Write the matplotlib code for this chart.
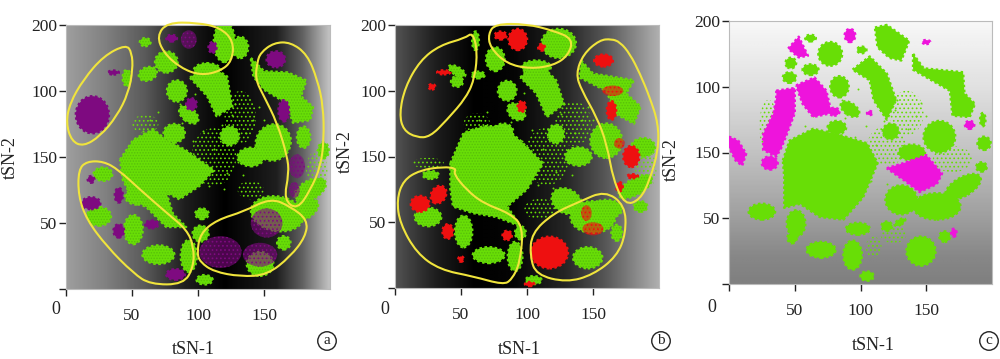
import numpy as np
import matplotlib
matplotlib.use("Agg")
import matplotlib.pyplot as plt
from matplotlib.patches import Ellipse, PathPatch, Polygon
from matplotlib.path import Path

plt.rcParams["font.family"] = ["Liberation Serif", "DejaVu Serif"]
plt.rcParams["hatch.linewidth"] = 0.7

W, H = 1000, 359

x_ticks = [0, 50, 100, 150]
x_tick_labels = ["", "50", "100", "150"]
y_ticks = [0, 50, 100, 150, 200]
y_tick_labels = ["", "50", "150", "100", "200"]  # the source really has 150 below 100

# small clusters as (x, y, width, height, angle)
a_green = [(82,118,16,14,0),(84,150,15,16,0),(93,132,17,10,-40),
           (107,166,20,10,0),(76,172,17,16,0),(120,187,16,30,0),(132,183,12,16,0),
           (62,163,14,10,20),(46,160,6,12,0),(60,187,8,6,0),
           (157,111,26,28,-30),(140,100,20,14,0),(124,116,14,14,0),(180,115,10,16,0),
           (195,105,8,12,0),(185,75,26,14,30),(180,60,24,14,30),(160,57,40,26,-10),(147,19,20,18,0),
           (165,35,10,10,0),(28,87,14,10,0),(25,55,18,14,0),(51,45,14,22,0),(70,26,24,14,0),(93,25,12,24,0),
           (105,7,12,7,0),(102,42,12,12,0),(54,70,18,12,0),(103,57,10,8,0)]
a_purple = [(20,132,25,28,0),(159,174,14,12,0),(165,135,8,16,0),(80,190,8,5,0),
            (111,183,6,8,0),(95,140,8,9,0),(40,71,6,11,0),(19,65,14,9,0),(19,83,5,5,0),(40,44,8,10,0),
            (65,49,10,6,0),(83,11,14,8,0),(36,164,8,3,0)]
a_purple_sparse = [(93,189,12,14,0),(117,28,32,24,0),(147,26,26,18,0),(152,50,24,22,0),(175,93,12,18,0),(173,75,8,12,0)]

b_green = [(82,119,15,12,0),(85,150,14,15,0),(92,134,15,11,-40),
           (107,168,22,10,0),(76,174,14,18,0),(124,186,26,22,0),(47,165,14,6,-30),(47,157,9,8,0),
           (61,188,5,14,0),(63,162,10,5,0),(160,112,24,26,0),
           (139,100,20,14,0),(122,117,12,14,0),(188,107,18,14,0),(182,77,28,12,30),(186,62,10,8,0),
           (130,66,24,18,-30),(150,54,34,24,0),(160,60,24,14,0),(146,23,22,16,0),(168,42,8,12,0),
           (25,54,20,14,0),(52,43,13,24,0),(71,25,24,12,0),(91,24,11,22,0),(105,6,12,6,0),(59,69,20,14,0),
           (27,86,12,6,0),(95,42,8,10,0)]
b_red = [(93,189,14,16,0),(80,192,9,6,0),(111,183,5,5,0),(158,173,14,9,0),(164,135,7,14,0),(179,100,12,16,0),
         (180,85,8,3,0),(170,77,5,7,0),(96,138,6,8,0),(37,164,10,3,0),(28,153,5,4,0),(33,71,11,14,-30),
         (19,64,14,12,0),(40,43,8,11,0),(85,40,7,7,0),(117,27,28,24,0),(102,3,7,3,0),(50,22,4,4,0)]
b_red_sparse = [(150,45,16,10,0),(145,57,8,12,0),(170,110,8,8,0),(165,150,16,8,0)]

c_green = [(77,175,18,18,0),(84,150,14,16,0),
           (92,133,16,9,-35),(82,119,14,10,0),(160,112,24,24,0),
           (139,100,20,12,0),(123,116,12,12,0),(131,64,24,22,0),(158,59,36,20,0),(178,74,30,14,30),
           (146,25,22,22,0),(164,36,8,8,0),(25,55,20,12,0),(51,46,14,20,0),(48,35,7,8,0),(70,26,22,12,0),
           (94,22,14,22,0),(105,6,10,7,0),(98,42,18,9,0),(46,157,10,8,0),(47,168,8,8,-40),(62,163,12,8,0),
           (62,187,8,5,0),(193,125,4,10,0),(194,107,10,10,0),(192,89,8,7,0),(120,44,8,7,0),(130,47,9,4,30),
           (101,178,7,5,0)]
c_magenta = [(31,92,12,10,0),(80,131,8,6,0),(183,121,7,6,0),(107,130,4,3,0),
             (171,39,4,6,0),(150,184,6,3,0),(92,189,8,10,0)]

# larger masses as outlines
a_green_masses = [
    [(41,98),(51,113),(66,121),(76,113),(91,105),(112,90),(101,78),(86,68),(76,73),(81,57),(91,47),(76,47),(61,62),(51,67),(43,83)],
    [(140,175),(150,165),(168,164),(182,158),(178,146),(187,138),(185,128),(172,126),(167,141),(150,151),(142,161)],
    [(94,160),(107,171),(122,161),(126,138),(114,131),(107,146)],
]
b_green_masses = [
    [(42,95),(52,118),(67,123),(82,123),(95,112),(112,95),(100,75),(85,62),(95,47),(77,54),(59,57),(44,62),(42,75)],
    [(141,173),(150,163),(181,158),(175,148),(186,138),(181,125),(168,132),(160,150),(140,160)],
    [(95,160),(107,173),(122,158),(128,140),(115,130),(107,148)],
]
c_green_masses = [
    [(41,94),(46,109),(64,118),(82,114),(105,107),(113,92),(102,66),(87,49),(69,51),(54,61),(42,58),(42,82)],
    [(140,175),(148,164),(178,161),(179,145),(187,137),(183,127),(170,128),(168,147),(140,163)],
    [(94,163),(107,173),(120,160),(127,140),(120,125),(110,140),(107,155)],
    [(111,195),(120,197),(137,185),(131,170),(122,172),(113,180)],
]
c_magenta_masses = [
    [(45,179),(53,188),(60,173.6),(53,172.4)],
    [(51,151),(65,157),(74,147),(78,130),(64,127),(56,137)],
    [(36,147),(50,149),(50,130),(44,114),(40,104),(36,97),(26,102),(26,114),(34,130),(36,142)],
    [(120,88),(133,92),(150,98),(162,84),(158,76),(145,70),(133,79)],
    [(0,112),(7,109),(13,99),(10,90),(5,94),(0,104)],
]

# thin speckled areas of green
a_green_sparse = [(112,100,34,44,0),(132,130,24,40,0),(60,125,20,14,0),(190,90,16,30,0),(140,75,20,14,0)]
b_green_sparse = [(115,100,34,44,0),(135,125,28,34,0),(62,125,20,16,0),(25,95,24,8,0),(190,90,16,30,0),(110,60,24,16,0)]
c_green_sparse = [(120,105,30,30,0),(135,130,26,34,0),(170,95,30,20,0),(30,120,14,40,0),(125,38,20,14,0),(110,28,12,16,0)]

# loose points between the clusters
noise_x = [96,104,112,118,126,130,136,100,108,122,92,88,116,128,142,134,64,58,52,70,110,120,146,150,86,98]
noise_y = [112,120,106,124,132,96,118,84,78,88,104,126,132,140,128,86,128,120,112,134,92,76,138,128,140,148]

# hand drawn yellow outlines
a_loops = [
    [(45.6,185.3),(49.9,179),(50.6,166.3),(47.3,148.6),(38.5,130.9),(25.8,115.7),(13.2,108.1),(4.3,111.9),(0,125.8),(3,141),(13.2,158.7),(28.4,176.5)],
    [(68.9,191.6),(76.5,201.8),(99.2,201.8),(116.9,198),(127,187.8),(125.8,172.7),(116.9,165),(101.8,161.8),(86.6,167.6),(73.9,179)],
    [(147.3,179),(157.5,186.6),(170.1,187),(182.8,177.7),(190.4,158.7),(194.9,138.5),(195.4,113.2),(192.9,92.9),(185.3,75.2),(175.2,60),(165,67.6),(168.9,87.8),(167.6,100.5),(160,125.8),(149.9,146.1),(143.5,158.7),(144.8,171.4)],
    [(9.4,90.4),(15.7,96.7),(28.4,96.7),(39.7,90.4),(56.2,75.2),(76.5,57.5),(91.6,44.8),(96.7,32.2),(96.7,17),(89.1,3.5),(63.8,3.5),(51.1,11.9),(30.9,32.2),(15.7,52.5),(9.4,70.4)],
    [(99.2,27.1),(101.8,42.3),(114.4,52.4),(134.7,58.7),(155,68.9),(170,62.5),(183,52.4),(181.5,39.7),(170,24.6),(152.4,10.6),(132.2,9.4),(111.9,13.2),(101.8,20.3)],
]
b_loops = [
    [(53,190),(34,184.6),(19,173),(7.6,152.8),(3.3,132.6),(6.3,120),(16.4,114.4),(26.5,114.9),(39,127.5),(54.3,145.2),(60.6,160.4),(62.4,180.6),(58.8,194.4)],
    [(70.7,193.2),(75.8,200.8),(99.8,200.8),(120,195.7),(135,189.4),(131.3,176.8),(120,169.2),(102.3,166.7),(84.6,170.5),(72,183)],
    [(164,189.4),(155,188.6),(142.7,178),(137,162.9),(141.4,150.3),(152.8,130),(160.4,109.8),(165.4,82),(174.2,63),(185.6,67),(193,82),(199.5,104.8),(199.5,125),(193,145),(185.6,163),(178,178),(170.5,187)],
    [(46.7,90.9),(36.6,92.2),(18.9,89.6),(6.3,82),(1.3,67),(3.8,49),(16.4,26.5),(34,13.9),(59.3,8.8),(82,2.5),(88.4,6.3),(94.7,19),(97.2,46.7),(87,56.8),(67,64.4),(54.3,74.5),(44.2,87)],
    [(102.3,24),(103.5,41.7),(120,56.8),(140,65.7),(159,74),(174.2,63),(175,41.7),(168,24),(150,10),(130,4.3),(107,10)],
]

# background shading: grey level against position along the axis
a_bg_pos = [0, 30, 60, 90, 120, 160, 180, 200]
a_bg_grey = [0.62, 0.50, 0.35, 0.12, 0.0, 0.12, 0.38, 0.75]
b_bg_pos = [0, 30, 60, 90, 130, 160, 200]
b_bg_grey = [0.32, 0.12, 0.0, 0.02, 0.15, 0.34, 0.68]
c_bg_pos = [0, 20, 50, 100, 150, 200]
c_bg_grey = [0.50, 0.53, 0.62, 0.76, 0.88, 0.97]

GREEN = "#68de06"
GRAIN = "#58c00a"
YELLOW = "#f0e43c"


def px_text(fig, x, y, s, **kw):
    return fig.text(x / W, 1 - y / H, s, ha="center", va="center", fontsize=13, color="#222222", **kw)


def smooth_path(pts):
    pts = np.array(pts + [pts[0]], dtype=float)
    mids = (pts[:-1] + pts[1:]) / 2
    verts = [mids[-1]]
    codes = [Path.MOVETO]
    for p, m in zip(pts[:-1], mids):
        verts += [p, m]
        codes += [Path.CURVE3, Path.CURVE3]
    return Path(verts, codes)


def draw_blobs(ax, blobs, color, z, hatch_color):
    for x, y, w, h, ang in blobs:
        # dotted edge roughens the outline like a cloud of points
        ax.add_patch(Ellipse((x, y), w, h, angle=ang, facecolor=color, edgecolor=color,
                             linewidth=1.8, linestyle=(0, (1, 1)), zorder=z))
        ax.add_patch(Ellipse((x, y), w, h, angle=ang, facecolor="none", edgecolor=hatch_color,
                             linewidth=0, hatch="......", zorder=z))


def draw_masses(ax, masses, color, z, hatch_color):
    for pts in masses:
        ax.add_patch(Polygon(pts, closed=True, facecolor=color, edgecolor=color, joinstyle="round",
                             linewidth=1.8, linestyle=(0, (1, 1)), zorder=z))
        ax.add_patch(Polygon(pts, closed=True, facecolor="none", edgecolor=hatch_color,
                             linewidth=0, hatch="......", zorder=z))


def draw_sparse(ax, blobs, color, z, fill_alpha=0.0):
    for x, y, w, h, ang in blobs:
        if fill_alpha:
            ax.add_patch(Ellipse((x, y), w, h, angle=ang, facecolor=color, edgecolor="none",
                                 alpha=fill_alpha, zorder=z))
        ax.add_patch(Ellipse((x, y), w, h, angle=ang, facecolor="none", edgecolor=color,
                             linewidth=0, hatch="....", zorder=z))


def draw_loop(ax, pts):
    ax.add_patch(PathPatch(smooth_path(pts), facecolor="none", edgecolor=YELLOW, linewidth=1.5,
                           zorder=6, clip_on=False))


def panel(fig, box, bg_pos, bg_grey, vertical, green, masses, sparse, other, other_sparse, other_color,
          other_masses, hatch_color, loops, label_y, ylab_x, ylab_y, xlab_x, zero_x):
    left, top, right, bottom = box
    ax = fig.add_axes([left / W, 1 - bottom / H, (right - left) / W, (bottom - top) / H])
    grid = np.interp(np.arange(0, 201, 2), bg_pos, bg_grey)
    img = grid[:, None] if vertical else grid[None, :]
    ax.imshow(img, extent=[0, 200, 0, 200], origin="lower", cmap="gray", vmin=0, vmax=1,
              aspect="auto", interpolation="bilinear", zorder=0)
    draw_sparse(ax, sparse, GREEN, 1)
    draw_blobs(ax, green, GREEN, 2, hatch_color)
    draw_masses(ax, masses, GREEN, 2, hatch_color)
    draw_blobs(ax, other, other_color, 3, other_color)
    draw_masses(ax, other_masses, other_color, 3, other_color)
    draw_sparse(ax, other_sparse, other_color, 3, fill_alpha=0.6)
    ax.scatter(noise_x, noise_y, s=2, color=GREEN, linewidths=0, zorder=2)
    for loop in loops:
        draw_loop(ax, loop)
    ax.set_xlim(0, 200)
    ax.set_ylim(0, 200)
    ax.set_xticks(x_ticks)
    ax.set_xticklabels(x_tick_labels)
    ax.set_yticks(y_ticks)
    ax.set_yticklabels(y_tick_labels)
    ax.tick_params(axis="x", length=5, width=1, pad=9, labelsize=12.5, colors="#222222")
    ax.tick_params(axis="y", length=5, width=1, pad=1, labelsize=12.5, colors="#222222")
    for s in ax.spines.values():
        s.set_color("#bbbbbb")
        s.set_linewidth(0.8)
    px_text(fig, zero_x, label_y - 5, "0")
    px_text(fig, xlab_x, label_y + 34, "tSN-1")
    px_text(fig, ylab_x, ylab_y, "tSN-2", rotation=90)
    return ax


fig = plt.figure(figsize=(W / 100, H / 100), dpi=100)

panel(fig, (66, 25, 330, 289), a_bg_pos, a_bg_grey, False, a_green, a_green_masses, a_green_sparse,
      a_purple, a_purple_sparse, "#7e0a80", [], GRAIN, a_loops, 315, 10, 158, 193, 56)
panel(fig, (395, 25, 659, 288), b_bg_pos, b_bg_grey, False, b_green, b_green_masses, b_green_sparse,
      b_red, b_red_sparse, "#ee1010", [], GRAIN, b_loops, 315, 345, 152, 519, 385)
panel(fig, (729, 21, 992, 284), c_bg_pos, c_bg_grey, True, c_green, c_green_masses, c_green_sparse,
      c_magenta, [], "#ee14dc", c_magenta_masses, GREEN, [], 312, 671, 160, 873, 712)

for x, y, s in [(327, 341, "a"), (661, 341, "b"), (989, 341, "c")]:
    fig.text(x / W, 1 - y / H, s, ha="center", va="center", fontsize=11, color="#222222",
             bbox=dict(boxstyle="circle,pad=0.18", facecolor="white", edgecolor="#222222", linewidth=1))

fig.savefig("out.png", dpi=100)
